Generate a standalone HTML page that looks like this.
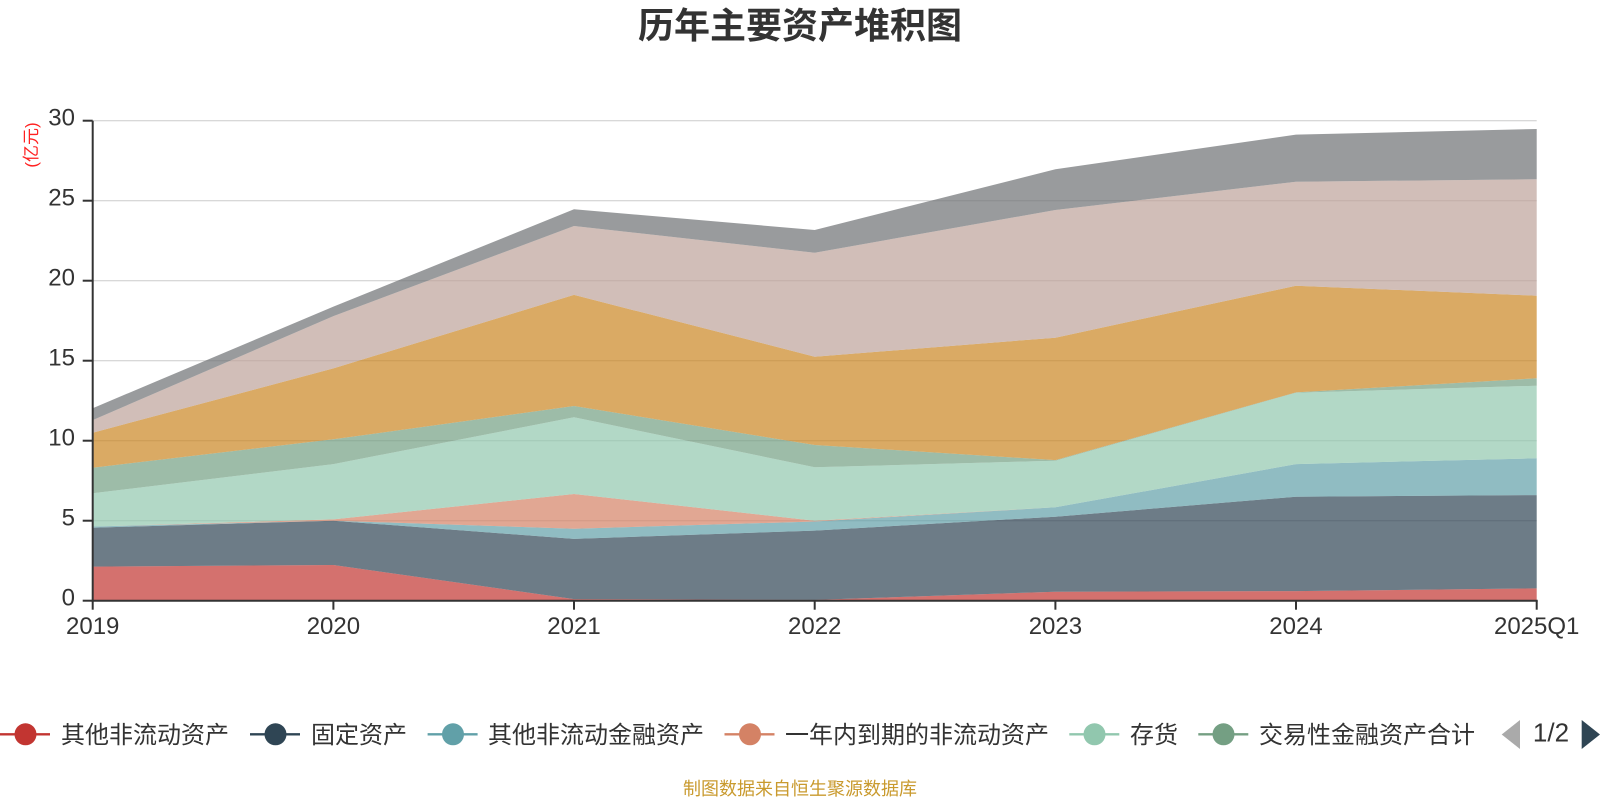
<!DOCTYPE html>
<html>
<head>
<meta charset="utf-8">
<style>
  html, body { margin: 0; padding: 0; background: #ffffff; }
  svg { display: block; }
  .cjk { font-family: "Liberation Sans", "Noto Sans CJK SC", sans-serif; }
  .num { font-family: "Liberation Sans", sans-serif; }
</style>
</head>
<body>
<svg width="1600" height="800" viewBox="0 0 1600 800" xmlns="http://www.w3.org/2000/svg">
  <rect x="0" y="0" width="1600" height="800" fill="#ffffff"/>

  <!-- Title -->
  <text x="800" y="38" text-anchor="middle" class="cjk" font-size="36" font-weight="bold" fill="#333333">历年主要资产堆积图</text>

  <!-- Grid lines -->
  <g stroke="#cccccc" stroke-width="1">
    <line x1="92.7" y1="120.7" x2="1536.7" y2="120.7"/>
    <line x1="92.7" y1="200.7" x2="1536.7" y2="200.7"/>
    <line x1="92.7" y1="280.7" x2="1536.7" y2="280.7"/>
    <line x1="92.7" y1="360.7" x2="1536.7" y2="360.7"/>
    <line x1="92.7" y1="440.7" x2="1536.7" y2="440.7"/>
    <line x1="92.7" y1="520.7" x2="1536.7" y2="520.7"/>
  </g>

  <!-- Stacked areas -->
  <g fill-opacity="0.7" stroke="none">
    <!-- L1 其他非流动资产 -->
    <polygon fill="#c23531" points="92.7,566.6 333.4,565.0 574.0,599.1 814.7,599.9 1055.4,591.7 1296.0,591.1 1536.7,588.4 1536.7,600.7 92.7,600.7"/>
    <!-- L2 固定资产 -->
    <polygon fill="#2f4554" points="92.7,527.7 333.4,520.7 574.0,538.9 814.7,530.6 1055.4,516.7 1296.0,496.7 1536.7,495.1 1536.7,588.4 1296.0,591.1 1055.4,591.7 814.7,599.9 574.0,599.1 333.4,565.0 92.7,566.6"/>
    <!-- L3 其他非流动金融资产 -->
    <polygon fill="#61a0a8" points="92.7,526.5 333.4,520.7 574.0,528.7 814.7,521.5 1055.4,507.3 1296.0,464.1 1536.7,458.3 1536.7,495.1 1296.0,496.7 1055.4,516.7 814.7,530.6 574.0,538.9 333.4,520.7 92.7,527.7"/>
    <!-- L4 一年内到期的非流动资产 -->
    <polygon fill="#d48265" points="92.7,526.5 333.4,519.4 574.0,494.0 814.7,520.7 1055.4,507.3 1296.0,464.1 1536.7,458.3 1536.7,458.3 1296.0,464.1 1055.4,507.3 814.7,521.5 574.0,528.7 333.4,520.7 92.7,526.5"/>
    <!-- L5 存货 -->
    <polygon fill="#91c7ae" points="92.7,493.3 333.4,464.1 574.0,417.3 814.7,467.3 1055.4,460.7 1296.0,392.7 1536.7,385.7 1536.7,458.3 1296.0,464.1 1055.4,507.3 814.7,520.7 574.0,494.0 333.4,519.4 92.7,526.5"/>
    <!-- L6 交易性金融资产合计 -->
    <polygon fill="#749f83" points="92.7,467.7 333.4,439.3 574.0,406.0 814.7,445.0 1055.4,460.1 1296.0,392.4 1536.7,378.3 1536.7,385.7 1296.0,392.7 1055.4,460.7 814.7,467.3 574.0,417.3 333.4,464.1 92.7,493.3"/>
    <!-- L7 orange -->
    <polygon fill="#ca8622" points="92.7,432.7 333.4,368.4 574.0,294.9 814.7,356.7 1055.4,337.7 1296.0,285.7 1536.7,295.7 1536.7,378.3 1296.0,392.4 1055.4,460.1 814.7,445.0 574.0,406.0 333.4,439.3 92.7,467.7"/>
    <!-- L8 pink -->
    <polygon fill="#bda29a" points="92.7,420.1 333.4,316.1 574.0,226.0 814.7,252.7 1055.4,210.0 1296.0,181.7 1536.7,179.3 1536.7,295.7 1296.0,285.7 1055.4,337.7 814.7,356.7 574.0,294.9 333.4,368.4 92.7,432.7"/>
    <!-- L9 gray -->
    <polygon fill="#6e7074" points="92.7,408.2 333.4,306.6 574.0,209.3 814.7,230.0 1055.4,169.3 1296.0,134.6 1536.7,129.0 1536.7,179.3 1296.0,181.7 1055.4,210.0 814.7,252.7 574.0,226.0 333.4,316.1 92.7,420.1"/>
  </g>

  <!-- Axes -->
  <g stroke="#333333" stroke-width="2" fill="none">
    <line x1="92.7" y1="120.7" x2="92.7" y2="601.7"/>
    <line x1="91.7" y1="600.7" x2="1537.7" y2="600.7"/>
    <!-- y ticks -->
    <line x1="82.7" y1="120.7" x2="92.7" y2="120.7"/>
    <line x1="82.7" y1="200.7" x2="92.7" y2="200.7"/>
    <line x1="82.7" y1="280.7" x2="92.7" y2="280.7"/>
    <line x1="82.7" y1="360.7" x2="92.7" y2="360.7"/>
    <line x1="82.7" y1="440.7" x2="92.7" y2="440.7"/>
    <line x1="82.7" y1="520.7" x2="92.7" y2="520.7"/>
    <line x1="82.7" y1="600.7" x2="92.7" y2="600.7"/>
    <!-- x ticks -->
    <line x1="92.7" y1="600.7" x2="92.7" y2="609.7"/>
    <line x1="333.4" y1="600.7" x2="333.4" y2="609.7"/>
    <line x1="574.0" y1="600.7" x2="574.0" y2="609.7"/>
    <line x1="814.7" y1="600.7" x2="814.7" y2="609.7"/>
    <line x1="1055.4" y1="600.7" x2="1055.4" y2="609.7"/>
    <line x1="1296.0" y1="600.7" x2="1296.0" y2="609.7"/>
    <line x1="1536.7" y1="600.7" x2="1536.7" y2="609.7"/>
  </g>

  <!-- Y labels -->
  <g class="num" font-size="24" fill="#333333" text-anchor="end">
    <text x="75" y="125.7">30</text>
    <text x="75" y="205.7">25</text>
    <text x="75" y="285.7">20</text>
    <text x="75" y="365.7">15</text>
    <text x="75" y="445.7">10</text>
    <text x="75" y="525.7">5</text>
    <text x="75" y="605.7">0</text>
  </g>

  <!-- Unit label -->
  <text transform="translate(37,145) rotate(-90)" text-anchor="middle" class="cjk" font-size="17" fill="#ff2020">(亿元)</text>

  <!-- X labels -->
  <g class="num" font-size="24" fill="#333333" text-anchor="middle">
    <text x="92.7" y="634">2019</text>
    <text x="333.4" y="634">2020</text>
    <text x="574.0" y="634">2021</text>
    <text x="814.7" y="634">2022</text>
    <text x="1055.4" y="634">2023</text>
    <text x="1296.0" y="634">2024</text>
    <text x="1536.7" y="634">2025Q1</text>
  </g>

  <!-- Legend -->
  <g class="cjk" font-size="24" fill="#333333">
    <line x1="0" y1="734.3" x2="50" y2="734.3" stroke="#c23531" stroke-width="2.3"/>
    <circle cx="25.5" cy="734.3" r="11" fill="#c23531"/>
    <text x="61" y="743">其他非流动资产</text>

    <line x1="250" y1="734.3" x2="300" y2="734.3" stroke="#2f4554" stroke-width="2.3"/>
    <circle cx="275.5" cy="734.3" r="11" fill="#2f4554"/>
    <text x="311" y="743">固定资产</text>

    <line x1="427.6" y1="734.3" x2="477.6" y2="734.3" stroke="#61a0a8" stroke-width="2.3"/>
    <circle cx="453" cy="734.3" r="11" fill="#61a0a8"/>
    <text x="488" y="743">其他非流动金融资产</text>

    <line x1="724.5" y1="734.3" x2="774.5" y2="734.3" stroke="#d48265" stroke-width="2.3"/>
    <circle cx="750" cy="734.3" r="11" fill="#d48265"/>
    <text x="785" y="743">一年内到期的非流动资产</text>

    <line x1="1069.3" y1="734.3" x2="1119.3" y2="734.3" stroke="#91c7ae" stroke-width="2.3"/>
    <circle cx="1094.5" cy="734.3" r="11" fill="#91c7ae"/>
    <text x="1130" y="743">存货</text>

    <line x1="1198.3" y1="734.3" x2="1248.3" y2="734.3" stroke="#749f83" stroke-width="2.3"/>
    <circle cx="1223.5" cy="734.3" r="11" fill="#749f83"/>
    <text x="1259" y="743">交易性金融资产合计</text>
  </g>

  <!-- Legend pager -->
  <polygon points="1501.7,734.5 1520,720 1520,749" fill="#aaaaaa"/>
  <text x="1551" y="741.7" text-anchor="middle" class="num" font-size="26" fill="#333333">1/2</text>
  <polygon points="1581.7,720 1600,734.5 1581.7,749" fill="#2f4554"/>

  <!-- Footer -->
  <text x="800" y="795" text-anchor="middle" class="cjk" font-size="18" fill="#c99a2e">制图数据来自恒生聚源数据库</text>
</svg>
</body>
</html>
